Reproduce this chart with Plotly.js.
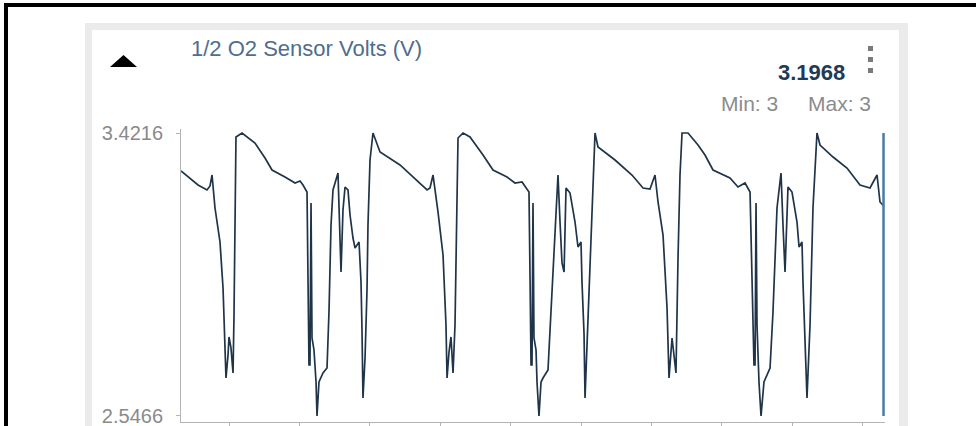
<!DOCTYPE html>
<html>
<head>
<meta charset="utf-8">
<script src="https://cdn.plot.ly/plotly-3.0.1.min.js"></script>
<style>
  html, body { margin: 0; padding: 0; background: #ffffff; }
  body { width: 976px; height: 426px; overflow: hidden; position: relative; }
  #frame { position: absolute; left: 4px; top: 3px; width: 980px; height: 440px;
           border-left: 4px solid #000; border-top: 4px solid #000; }
  #panel { position: absolute; left: 85px; top: 23px; width: 823px; height: 420px; background: #ebebeb; }
  #inner { position: absolute; left: 92px; top: 30px; width: 807px; height: 410px; background: #ffffff; }
  #chart { position: absolute; left: 0; top: 0; width: 976px; height: 426px; }
</style>
</head>
<body>
<div id="frame"></div>
<div id="panel"></div>
<div id="inner"></div>
<div id="chart"></div>
<script>
// ---- data (time in s, O2 sensor voltage in V) ----
const time = [
  -0.682, -0.554, -0.440, -0.313, -0.270, -0.241, -0.199, -0.128, -0.085, -0.057,
  -0.043, -0.014, 0.000, 0.028, 0.057, 0.071, 0.085, 0.099, 0.185, 0.369,
  0.511, 0.611, 0.795, 0.938, 1.009, 1.051, 1.108, 1.122, 1.136, 1.150,
  1.165, 1.179, 1.207, 1.236, 1.250, 1.278, 1.335, 1.392, 1.420, 1.449,
  1.477, 1.548, 1.577, 1.591, 1.619, 1.648, 1.690, 1.719, 1.761, 1.790,
  1.847, 1.875, 1.889, 1.903, 1.932, 1.960, 1.974, 2.003, 2.045, 2.145,
  2.429, 2.614, 2.813, 2.855, 2.898, 2.969, 3.040, 3.082, 3.097, 3.125,
  3.153, 3.182, 3.210, 3.239, 3.253, 3.324, 3.423, 3.608, 3.750, 3.949,
  4.062, 4.162, 4.233, 4.261, 4.276, 4.290, 4.304, 4.318, 4.332, 4.361,
  4.375, 4.403, 4.432, 4.460, 4.531, 4.574, 4.602, 4.631, 4.673, 4.702,
  4.730, 4.759, 4.787, 4.844, 4.915, 4.957, 5.000, 5.014, 5.043, 5.057,
  5.099, 5.128, 5.156, 5.199, 5.241, 5.483, 5.724, 5.881, 5.980, 6.051,
  6.094, 6.165, 6.222, 6.250, 6.293, 6.321, 6.349, 6.378, 6.406, 6.435,
  6.520, 6.662, 6.761, 6.875, 7.116, 7.230, 7.330, 7.401, 7.429, 7.443,
  7.457, 7.472, 7.486, 7.500, 7.528, 7.557, 7.599, 7.685, 7.727, 7.784,
  7.841, 7.869, 7.898, 7.940, 7.997, 8.068, 8.097, 8.139, 8.153, 8.210,
  8.253, 8.295, 8.352, 8.395, 8.580, 8.778, 8.963, 9.105, 9.205, 9.247,
  9.297
];
const volts = [
  3.3041, 3.2825, 3.2608, 3.2454, 3.2577, 3.2917, 3.1897, 3.0846, 2.9423, 2.7569,
  2.6640, 2.7352, 2.7909, 2.7569, 2.6795, 2.8589, 3.2206, 3.4092, 3.4216, 3.3907,
  3.3443, 3.3072, 3.2856, 3.2670, 3.2732, 3.2608, 3.2392, 2.9300, 2.7043, 2.7043,
  3.2052, 2.7878, 2.7507, 2.6517, 2.5466, 2.6517, 2.6795, 2.6950, 2.8682, 3.1371,
  3.2454, 3.2979, 3.0753, 2.9918, 3.1835, 3.2546, 3.2454, 3.1680, 3.0970, 3.0661,
  3.0846, 2.9609, 2.8125, 2.6022, 2.7259, 2.9362, 3.1371, 3.3381, 3.4216, 3.3629,
  3.3227, 3.2856, 3.2454, 3.2515, 3.2917, 3.1773, 3.0444, 2.8280, 2.6640, 2.7445,
  2.7909, 2.6795, 2.8280, 3.2206, 3.4061, 3.4216, 3.4092, 3.3536, 3.3072, 3.2856,
  3.2670, 3.2701, 3.2454, 3.2392, 2.9733, 2.7043, 2.7043, 3.2052, 2.7878, 2.7507,
  2.6517, 2.5466, 2.6517, 2.6640, 2.6888, 2.8805, 3.0000, 3.1371, 3.2917, 3.1464,
  3.0200, 2.9918, 3.2515, 3.2361, 3.1464, 3.0691, 3.0846, 2.9609, 2.8000, 2.6022,
  2.8280, 3.0000, 3.1371, 3.4216, 3.3783, 3.3381, 3.2917, 3.2515, 3.2485, 3.2917,
  3.2083, 3.1062, 2.8805, 2.6640, 2.7878, 2.7259, 2.6795, 3.0351, 3.2917, 3.4216,
  3.4216, 3.3845, 3.3536, 3.3072, 3.2825, 3.2546, 3.2670, 3.2392, 2.9733, 2.7878,
  2.7043, 2.7043, 3.2052, 2.8280, 2.6517, 2.5466, 2.6517, 2.6950, 2.8682, 3.1897,
  3.2979, 3.1371, 2.9918, 3.2546, 3.2392, 3.1464, 3.0691, 3.0846, 2.9609, 2.6022,
  2.8280, 3.1897, 3.4216, 3.3845, 3.3474, 3.3134, 3.2608, 3.2515, 3.2917, 3.2083,
  3.1968
];
const yTicks = [2.5466, 3.4216];
const yTickLabels = ["2.5466", "3.4216"];
const xTicks = [0, 1, 2, 3, 4, 5, 6, 7, 8, 9];
const chartTitle = "1/2 O2 Sensor Volts (V)";
const currentValue = "3.1968";
const minLabel = "Min: 3";
const maxLabel = "Max: 3";

// ---- layout helpers (pixel -> paper) ----
const W = 976, H = 426;
const M = { l: 181, r: 91, t: 129, b: 4 };
const PW = W - M.l - M.r, PH = H - M.t - M.b;
const px = x => (x - M.l) / PW;
const py = y => (H - M.b - y) / PH;

const FONT = "Liberation Sans, Arial, Helvetica, sans-serif";

const trace = {
  x: time, y: volts, type: "scatter", mode: "lines",
  line: { color: "#1f3448", width: 1.7 },
  hoverinfo: "skip"
};

const tri = `M ${px(110)},${py(67)} L ${px(137)},${py(67)} L ${px(123.5)},${py(55)} Z`;
const dots = [46, 57, 68].map(y0 => ({
  type: "rect", xref: "paper", yref: "paper",
  x0: px(868), x1: px(873), y0: py(y0), y1: py(y0 + 5),
  fillcolor: "#7a7a7a", line: { width: 0 }
}));

const layout = {
  width: W, height: H,
  margin: { l: M.l, r: M.r, t: M.t, b: M.b, pad: 0 },
  paper_bgcolor: "rgba(0,0,0,0)",
  plot_bgcolor: "rgba(0,0,0,0)",
  showlegend: false,
  font: { family: FONT },
  xaxis: {
    range: [-0.682, 9.318], tickvals: xTicks, ticks: "outside", ticklen: 4,
    tickcolor: "#b4b4b4", showline: true, linecolor: "#b4b4b4", linewidth: 1,
    showgrid: false, zeroline: false, showticklabels: false, fixedrange: true
  },
  yaxis: {
    range: [2.528, 3.434], tickvals: yTicks, ticktext: yTickLabels,
    ticks: "outside", ticklen: 4, tickcolor: "#b4b4b4",
    showline: true, linecolor: "#b4b4b4", linewidth: 1,
    showgrid: false, zeroline: false, fixedrange: true,
    tickfont: { family: FONT, size: 20, color: "#8a8a8a" },
    ticklabelstandoff: 9, ticklabeloverflow: "allow"
  },
  shapes: [
    { type: "path", xref: "paper", yref: "paper", path: tri, fillcolor: "#000000", line: { width: 0 } },
    ...dots,
    { type: "line", xref: "x", yref: "y",
      x0: time[time.length - 1], x1: time[time.length - 1], y0: yTicks[0], y1: yTicks[1],
      line: { color: "#4a7aa5", width: 2.5 } }
  ],
  annotations: [
    { text: chartTitle, xref: "paper", yref: "paper", x: px(189), y: py(49), xanchor: "left", yanchor: "middle",
      showarrow: false, font: { family: FONT, size: 22, color: "#4f6e8e" } },
    { text: "<b>" + currentValue + "</b>", xref: "paper", yref: "paper", x: px(847), y: py(72), xanchor: "right", yanchor: "middle",
      showarrow: false, font: { family: FONT, size: 22, color: "#1e3a56" } },
    { text: minLabel, xref: "paper", yref: "paper", x: px(719), y: py(103), xanchor: "left", yanchor: "middle",
      showarrow: false, font: { family: FONT, size: 21, color: "#8c8c8c" } },
    { text: maxLabel, xref: "paper", yref: "paper", x: px(873), y: py(103), xanchor: "right", yanchor: "middle",
      showarrow: false, font: { family: FONT, size: 21, color: "#8c8c8c" } }
  ]
};

Plotly.newPlot("chart", [trace], layout, { displayModeBar: false, staticPlot: true });
</script>
</body>
</html>
